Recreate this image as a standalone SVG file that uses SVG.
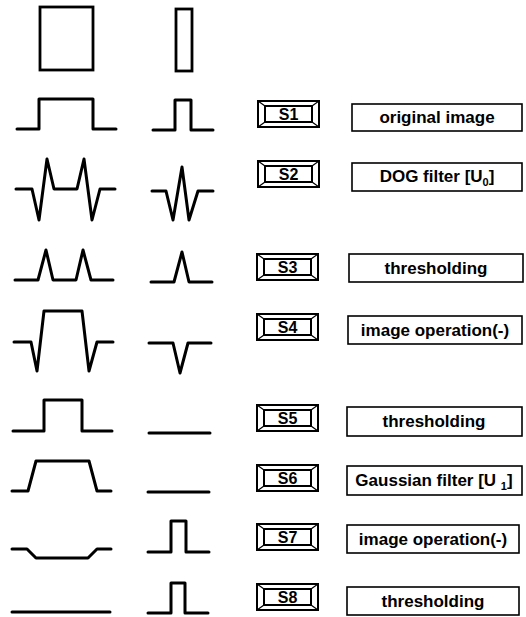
<svg xmlns="http://www.w3.org/2000/svg" width="526" height="617" viewBox="0 0 526 617">
<style>
.w{fill:none;stroke:#000;stroke-width:3;stroke-linejoin:round;stroke-linecap:round}
.sh{fill:none;stroke:#000;stroke-width:2.8}
.bo{fill:#fff;stroke:#000;stroke-width:2}
.bi{fill:none;stroke:#000;stroke-width:2}
.bv{stroke:#000;stroke-width:1.2}
.lb{fill:#fff;stroke:#000;stroke-width:1.6}
.t{font-family:"Liberation Sans",Arial,sans-serif;font-weight:bold;font-size:17px;text-anchor:middle;fill:#000}
.b{font-size:16px}
.st{font-size:11px}
</style>
<defs>
<g id="btn">
<rect class="bo" x="0" y="0" width="61" height="26"/>
<rect class="bi" x="7" y="5" width="47" height="16"/>
<path class="bv" d="M0 0L7 5M61 0L54 5M0 26L7 21M61 26L54 21"/>
</g>
</defs>
<g id="shapes">
<rect class="sh" x="40" y="7" width="53" height="63"/>
<rect class="sh" x="176" y="9" width="16" height="62"/>
</g>
<g id="waveforms">
<path class="w" d="M17 129H39V99H93V129H116"/>
<path class="w" d="M153 130H175V100H191V130H213"/>
<path class="w" d="M16 189H32L39 220L47 159L54 189H77L84 159L92 220L100 189H115"/>
<path class="w" d="M152 191H166L173 220L182 167L189 220L198 191H213"/>
<path class="w" d="M15 280H38L46 250L53 280H76L83 250L91 280H113"/>
<path class="w" d="M151 282H174L182 252L189 282H212"/>
<path class="w" d="M14 342H31L37 371L44 311H82L89 371L97 342H113"/>
<path class="w" d="M149 343H173L180 373L188 343H211"/>
<path class="w" d="M13 431H44V400H82V431H112"/>
<path class="w" d="M149 433H210"/>
<path class="w" d="M12 491H28L36 461H89L97 491H111"/>
<path class="w" d="M148 492H209"/>
<path class="w" d="M12 549H27L36 558H88L97 549H111"/>
<path class="w" d="M148 552H171V521H186V552H209"/>
<path class="w" d="M12 612H110"/>
<path class="w" d="M148 613H171V583H185V613H208"/>
</g>
<g id="s1"><use href="#btn" x="258" y="101"/><text class="t b" x="288.5" y="120">S1</text>
<rect class="lb" x="352" y="104" width="170" height="27"/><text class="t" x="437" y="123">original image</text></g>
<g id="s2"><use href="#btn" x="258" y="161"/><text class="t b" x="288.5" y="180">S2</text>
<rect class="lb" x="352" y="163" width="170" height="28"/><text class="t" x="437" y="182">DOG filter [U<tspan class="st" dy="4">0</tspan><tspan dy="-4">]</tspan></text></g>
<g id="s3"><use href="#btn" x="257" y="254"/><text class="t b" x="287.5" y="273">S3</text>
<rect class="lb" x="349" y="254" width="174" height="28"/><text class="t" x="436" y="274">thresholding</text></g>
<g id="s4"><use href="#btn" x="257" y="314"/><text class="t b" x="287.5" y="333">S4</text>
<rect class="lb" x="348" y="316" width="174" height="28"/><text class="t" x="435" y="336">image operation(-)</text></g>
<g id="s5"><use href="#btn" x="257" y="405"/><text class="t b" x="287.5" y="424">S5</text>
<rect class="lb" x="347" y="407" width="175" height="29"/><text class="t" x="434" y="427">thresholding</text></g>
<g id="s6"><use href="#btn" x="257" y="465"/><text class="t b" x="287.5" y="484">S6</text>
<rect class="lb" x="347" y="466" width="175" height="29"/><text class="t" x="434" y="486">Gaussian filter [U <tspan class="st" dy="4">1</tspan><tspan dy="-4">]</tspan></text></g>
<g id="s7"><use href="#btn" x="257" y="524"/><text class="t b" x="287.5" y="543">S7</text>
<rect class="lb" x="347" y="525" width="172" height="28"/><text class="t" x="433" y="545">image operation(-)</text></g>
<g id="s8"><use href="#btn" x="257" y="584"/><text class="t b" x="287.5" y="603">S8</text>
<rect class="lb" x="347" y="587" width="172" height="28"/><text class="t" x="433" y="607">thresholding</text></g>
</svg>
